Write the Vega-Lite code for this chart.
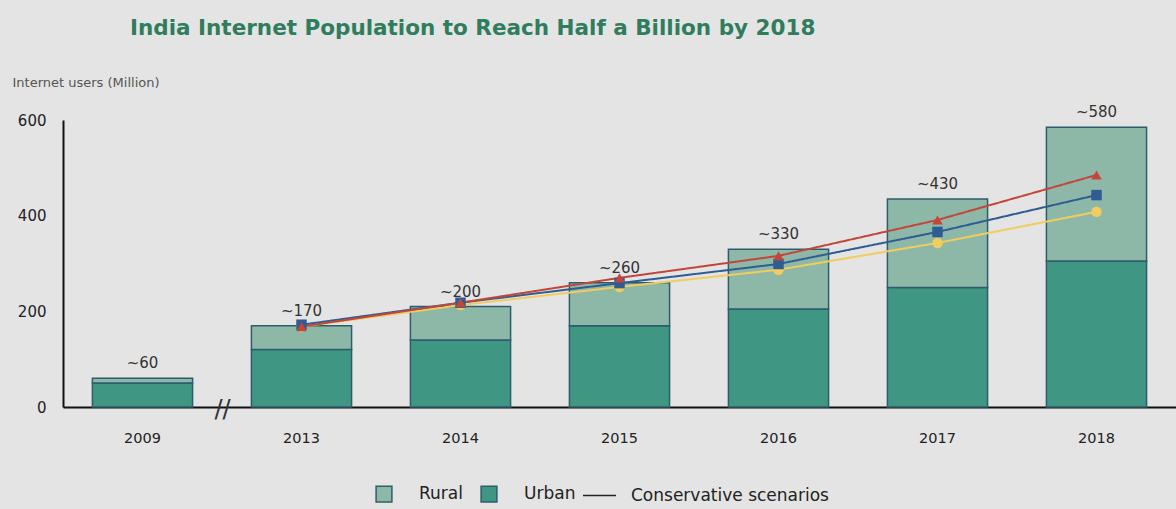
{
  "$schema": "https://vega.github.io/schema/vega-lite/v6.json",
  "width": 1113,
  "height": 287,
  "autosize": {"type": "none"},
  "padding": {"left": 63, "top": 120, "right": 0, "bottom": 102},
  "background": "#e4e4e4",
  "title": {
    "text": "India Internet Population to Reach Half a Billion by 2018",
    "anchor": "start",
    "frame": "group",
    "orient": "top",
    "offset": 20,
    "dx": 67,
    "font": "DejaVu Sans",
    "fontSize": 21.5,
    "fontWeight": "bold",
    "color": "#2f7d5c",
    "baseline": "alphabetic"
  },
  "config": {
    "view": {"stroke": null},
    "font": "DejaVu Sans",
    "axis": {"grid": false, "ticks": false, "domainColor": "#111", "domainWidth": 2, "labelColor": "#222", "labelFont": "DejaVu Sans", "labelFontSize": 14.5},
    "legend": {"labelFont": "DejaVu Sans", "labelFontSize": 17, "labelColor": "#222", "labelLimit": 0}
  },
  "datasets": {
    "bars": [
      {"year": "2009", "type": "Urban", "value": 50},
      {"year": "2009", "type": "Rural", "value": 10},
      {"year": "2013", "type": "Urban", "value": 120},
      {"year": "2013", "type": "Rural", "value": 50},
      {"year": "2014", "type": "Urban", "value": 140},
      {"year": "2014", "type": "Rural", "value": 70},
      {"year": "2015", "type": "Urban", "value": 170},
      {"year": "2015", "type": "Rural", "value": 90},
      {"year": "2016", "type": "Urban", "value": 205},
      {"year": "2016", "type": "Rural", "value": 125},
      {"year": "2017", "type": "Urban", "value": 250},
      {"year": "2017", "type": "Rural", "value": 185},
      {"year": "2018", "type": "Urban", "value": 305},
      {"year": "2018", "type": "Rural", "value": 280}
    ],
    "totals": [
      {"year": "2009", "total": 60, "label": "~60"},
      {"year": "2013", "total": 170, "label": "~170"},
      {"year": "2014", "total": 210, "label": "~200"},
      {"year": "2015", "total": 260, "label": "~260"},
      {"year": "2016", "total": 330, "label": "~330"},
      {"year": "2017", "total": 435, "label": "~430"},
      {"year": "2018", "total": 585, "label": "~580"}
    ],
    "scenarios": [
      {"year": "2013", "scenario": "C", "group": "Conservative scenarios", "value": 168},
      {"year": "2014", "scenario": "C", "group": "Conservative scenarios", "value": 213},
      {"year": "2015", "scenario": "C", "group": "Conservative scenarios", "value": 251},
      {"year": "2016", "scenario": "C", "group": "Conservative scenarios", "value": 287},
      {"year": "2017", "scenario": "C", "group": "Conservative scenarios", "value": 343},
      {"year": "2018", "scenario": "C", "group": "Conservative scenarios", "value": 408},
      {"year": "2013", "scenario": "B", "group": "Conservative scenarios", "value": 172},
      {"year": "2014", "scenario": "B", "group": "Conservative scenarios", "value": 218},
      {"year": "2015", "scenario": "B", "group": "Conservative scenarios", "value": 259},
      {"year": "2016", "scenario": "B", "group": "Conservative scenarios", "value": 299},
      {"year": "2017", "scenario": "B", "group": "Conservative scenarios", "value": 366},
      {"year": "2018", "scenario": "B", "group": "Conservative scenarios", "value": 443},
      {"year": "2013", "scenario": "A", "group": "Conservative scenarios", "value": 168},
      {"year": "2014", "scenario": "A", "group": "Conservative scenarios", "value": 218},
      {"year": "2015", "scenario": "A", "group": "Conservative scenarios", "value": 270},
      {"year": "2016", "scenario": "A", "group": "Conservative scenarios", "value": 316},
      {"year": "2017", "scenario": "A", "group": "Conservative scenarios", "value": 391},
      {"year": "2018", "scenario": "A", "group": "Conservative scenarios", "value": 485}
    ],
    "brk": [{"year": "2009", "value": 0, "mark": "//"}]
  },
  "encoding": {
    "x": {
      "field": "year", "type": "nominal",
      "scale": {"domain": ["2009", "2013", "2014", "2015", "2016", "2017", "2018"], "paddingInner": 0.37, "paddingOuter": 0.185},
      "axis": {"title": null, "labelAngle": 0, "labelPadding": 24}
    }
  },
  "layer": [
    {
      "data": {"name": "bars"},
      "mark": {"type": "bar", "stroke": "#2d5d6c", "strokeWidth": 1.5},
      "encoding": {
        "y": {
          "field": "value", "type": "quantitative", "stack": "zero",
          "scale": {"domain": [0, 600], "nice": false},
          "axis": {"values": [0, 200, 400, 600], "title": "Internet users (Million)", "titleAngle": 0, "titleAlign": "left", "titleBaseline": "middle", "titleX": -51, "titleY": -38, "titleFont": "DejaVu Sans", "titleFontSize": 13, "titleFontWeight": "normal", "titleColor": "#555", "labelPadding": 17, "labelFontSize": 15}
        },
        "fill": {
          "field": "type", "type": "nominal",
          "scale": {"domain": ["Rural", "Urban"], "range": ["#8db8a7", "#3f9683"]},
          "legend": {"title": null, "orient": "none", "legendX": 312, "legendY": 365, "direction": "horizontal", "symbolType": "square", "symbolSize": 250, "symbolStrokeColor": "#2d5d6c", "symbolStrokeWidth": 1.5, "columnPadding": 15, "labelOffset": 26}
        },
        "order": {"field": "type", "sort": "descending"}
      }
    },
    {
      "data": {"name": "totals"},
      "mark": {"type": "text", "dy": -15, "fontSize": 15, "color": "#333", "baseline": "middle", "font": "DejaVu Sans"},
      "encoding": {
        "y": {"field": "total", "type": "quantitative"},
        "text": {"field": "label"}
      }
    },
    {
      "data": {"name": "brk"},
      "mark": {"type": "text", "dx": 80, "dy": 3, "fontSize": 24, "color": "#333", "baseline": "middle", "font": "DejaVu Sans"},
      "encoding": {
        "y": {"field": "value", "type": "quantitative"},
        "text": {"field": "mark"}
      }
    },
    {
      "data": {"name": "scenarios"},
      "mark": {"type": "line", "strokeWidth": 2},
      "encoding": {
        "y": {"field": "value", "type": "quantitative"},
        "color": {"field": "scenario", "type": "nominal", "scale": {"domain": ["C", "B", "A"], "range": ["#f1cc5e", "#2f5c92", "#c2463a"]}, "legend": null},
        "strokeDash": {"field": "group", "type": "nominal", "scale": {"range": [[1, 0]]}, "legend": {"title": null, "orient": "none", "legendX": 519, "legendY": 358, "symbolType": "stroke", "symbolSize": 1089, "symbolStrokeColor": "#222", "symbolStrokeWidth": 1.5, "labelOffset": 14}}
      }
    },
    {
      "data": {"name": "scenarios"},
      "mark": {"type": "point", "filled": true, "opacity": 1, "size": 110},
      "encoding": {
        "y": {"field": "value", "type": "quantitative"},
        "color": {"field": "scenario", "type": "nominal", "legend": null},
        "shape": {"field": "scenario", "type": "nominal", "scale": {"domain": ["C", "B", "A"], "range": ["circle", "square", "triangle-up"]}, "legend": null}
      }
    }
  ]
}
